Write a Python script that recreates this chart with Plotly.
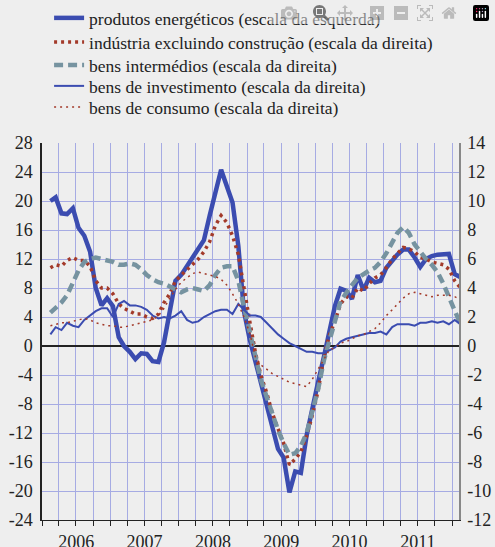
import pandas as pd
import plotly.graph_objects as go

# monthly observations, Jan 2006 .. Jan 2012 (plotted mid-month)
months = pd.date_range("2006-01-15", periods=73, freq="MS") + pd.Timedelta(days=14)

# produtos energéticos (left scale)
energia = [20.0, 20.5, 18.3, 18.2, 19.0, 16.3, 15.2, 13.0, 8.0, 5.6, 6.6, 5.5,
           1.2, 0.0, -0.8, -1.8, -1.0, -1.1, -2.1, -2.2, 0.5, 4.5, 9.0, 9.8,
           11.1, 12.3, 13.4, 14.6, 18.0, 21.0, 24.3, 22.0, 19.8, 13.8, 4.8, 0.9,
           -2.3, -5.0, -7.9, -10.9, -14.2, -15.4, -20.2, -17.3, -17.5, -12.3, -8.5, -5.0,
           -1.5, 2.0, 5.5, 7.9, 7.6, 6.5, 9.8, 7.7, 9.4, 8.8, 9.0, 10.8,
           11.8, 12.6, 13.3, 13.3, 12.2, 10.9, 12.0, 12.4, 12.6, 12.7, 12.7, 9.9,
           9.5]

# indústria excluindo construção (right scale)
industria = [5.4, 5.6, 5.5, 5.9, 6.1, 5.9, 5.9, 5.5, 4.5, 4.0, 4.0, 3.6,
             2.9, 2.6, 2.4, 2.2, 2.2, 2.0, 1.9, 2.2, 3.0, 3.6, 4.5, 4.9,
             5.3, 5.6, 6.0, 6.5, 7.2, 8.3, 9.0, 8.5, 7.6, 6.3, 3.9, 1.7,
             -0.5, -2.0, -3.2, -4.6, -5.7, -6.7, -8.2, -7.8, -7.3, -6.2, -4.8, -3.1,
             -0.8, 0.7, 1.7, 2.9, 3.4, 3.3, 4.0, 3.8, 4.3, 4.7, 4.9, 5.4,
             6.0, 6.4, 6.8, 6.7, 6.5, 6.1, 6.0, 5.8, 5.7, 5.6, 5.3, 4.5,
             4.0]

# bens intermédios (right scale)
intermedios = [2.3, 2.6, 3.0, 3.5, 4.4, 5.2, 5.8, 6.0, 6.1, 6.0, 5.9, 5.8,
               5.6, 5.6, 5.7, 5.6, 5.3, 4.9, 4.6, 4.4, 4.3, 4.1, 3.9, 3.7,
               3.9, 4.0, 3.9, 3.8, 4.2, 4.9, 5.4, 5.5, 5.5, 4.5, 2.7, 0.9,
               -0.8, -2.3, -3.5, -4.7, -5.8, -6.7, -7.5, -7.4, -6.9, -6.0, -4.6, -3.0,
               -1.0, 0.4, 1.7, 3.1, 3.7, 4.2, 4.7, 5.0, 5.2, 5.4, 5.8, 6.4,
               7.2, 7.8, 8.2, 7.8, 7.0, 6.5, 6.0, 5.6, 5.1, 4.3, 3.4, 2.5,
               1.5]

# bens de investimento (right scale)
investimento = [0.8, 1.3, 1.1, 1.6, 1.4, 1.3, 1.8, 2.1, 2.4, 2.6, 2.6, 2.0,
                2.9, 3.1, 2.8, 2.8, 2.7, 2.5, 2.1, 1.9, 2.0, 1.9, 2.1, 2.4,
                1.8, 1.6, 1.7, 2.0, 2.2, 2.4, 2.5, 2.5, 2.2, 2.9, 2.5, 2.1,
                2.1, 2.0, 1.6, 1.2, 0.8, 0.5, 0.2, 0.0, -0.2, -0.4, -0.4, -0.5,
                -0.5, -0.3, -0.1, 0.3, 0.5, 0.6, 0.7, 0.8, 0.9, 0.9, 1.0, 0.8,
                1.3, 1.5, 1.5, 1.5, 1.4, 1.6, 1.6, 1.7, 1.6, 1.7, 1.5, 1.8,
                1.5]

# bens de consumo (right scale)
consumo = [1.4, 1.5, 1.6, 1.6, 1.7, 1.8, 1.9, 1.8, 1.6, 1.5, 1.4, 1.4,
           1.3, 1.3, 1.4, 1.5, 1.6, 1.7, 1.8, 2.1, 2.6, 3.3, 3.9, 4.4,
           4.7, 5.0, 5.1, 5.0, 4.9, 4.8, 4.6, 4.2, 3.6, 2.9, 2.0, 0.9,
           -0.8, -1.3, -1.6, -1.9, -2.1, -2.3, -2.5, -2.6, -2.7, -2.8, -2.3, -1.6,
           -1.0, -0.3, -0.1, 0.2, 0.3, 0.5, 0.7, 0.8, 1.0, 1.2, 1.6, 2.1,
           2.5, 2.9, 3.3, 3.6, 3.7, 3.6, 3.5, 3.4, 3.5, 3.5, 3.5, 3.4,
           3.2]

left_ticks = list(range(-24, 29, 4))
right_ticks = list(range(-12, 15, 2))

blue = "#3b4cb0"
red = "#a33a2a"
grey_blue = "#7693a0"
serif = "Times New Roman, Liberation Serif, DejaVu Serif, serif"
tick_font = dict(family=serif, size=18, color="#222")

fig = go.Figure()

# one legend per entry so the rows can sit as tightly as in the original
fig.add_trace(go.Scatter(x=months, y=energia, mode="lines", legend="legend",
                         name="produtos energéticos (escala da esquerda)",
                         line=dict(color=blue, width=4.5)))
fig.add_trace(go.Scatter(x=months, y=industria, mode="lines", yaxis="y2", legend="legend2",
                         name="indústria excluindo construção (escala da direita)",
                         line=dict(color=red, width=3.5, dash="3px,4px")))
fig.add_trace(go.Scatter(x=months, y=intermedios, mode="lines", yaxis="y2", legend="legend3",
                         name="bens intermédios (escala da direita)",
                         line=dict(color=grey_blue, width=4.5, dash="9px,5px")))
fig.add_trace(go.Scatter(x=months, y=investimento, mode="lines", yaxis="y2", legend="legend4",
                         name="bens de investimento (escala da direita)",
                         line=dict(color=blue, width=2)))
fig.add_trace(go.Scatter(x=months, y=consumo, mode="lines", yaxis="y2", legend="legend5",
                         name="bens de consumo (escala da direita)",
                         line=dict(color=red, width=1.5, dash="2px,4px")))

row_centres = [18, 42, 65, 86, 107]
legends = {}
for i, yc in enumerate(row_centres):
    key = "legend" if i == 0 else "legend%d" % (i + 1)
    legends[key] = dict(x=0.017, xanchor="left", y=1 - yc / 547, yref="container",
                        yanchor="middle", bgcolor="rgba(0,0,0,0)",
                        font=dict(family=serif, size=17.5, color="#222"))

fig.update_layout(
    width=495, height=547,
    margin=dict(l=42, r=36, t=143, b=27),
    paper_bgcolor="#eeeeee", plot_bgcolor="#eeeeee",
    font=dict(family=serif, size=16, color="#222"),
    showlegend=True,
    xaxis=dict(
        type="date", range=["2006-01-01", "2012-02-07"], automargin=False,
        dtick="M12", tick0="2006-01-01", tickformat="%Y", ticklabelmode="period",
        showgrid=True, gridcolor="#a6abe3", gridwidth=1,
        ticks="outside", ticklen=5, tickcolor="#222",
        minor=dict(dtick="M3", showgrid=True, gridcolor="#a6abe3",
                   ticks="outside", ticklen=5, tickcolor="#222"),
        showline=True, linecolor="#222", linewidth=1,
        tickfont=tick_font, zeroline=False,
    ),
    yaxis=dict(
        range=[-24, 28], tickvals=left_ticks, ticktext=[str(v) for v in left_ticks],
        automargin=False,
        showgrid=True, gridcolor="#a6abe3", gridwidth=1,
        zeroline=True, zerolinecolor="#222", zerolinewidth=1.5,
        showline=True, linecolor="#222", linewidth=1.5,
        ticks="", tickfont=tick_font, ticklabelstandoff=4,
    ),
    yaxis2=dict(
        range=[-12, 14], tickvals=right_ticks, ticktext=[str(v) for v in right_ticks],
        automargin=False,
        overlaying="y", side="right", showgrid=False, zeroline=False,
        showline=True, linecolor="#888", linewidth=1.5,
        ticks="", ticklabelstandoff=3, tickfont=tick_font,
    ),
    **legends,
)

# the page's default 8px body margin would shift the figure, so drop it
fig.write_html("out.html",
               post_script="document.body.style.margin='0';"
                           "document.body.style.background='#eeeeee';")
